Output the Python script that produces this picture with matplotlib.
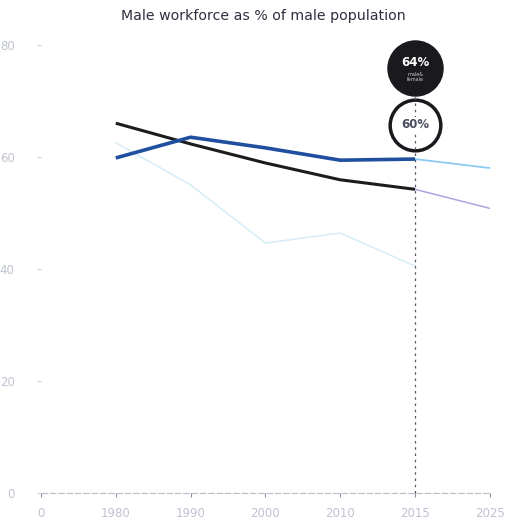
import matplotlib
matplotlib.use("Agg")
import matplotlib.pyplot as plt

# Category axis (equally spaced years)
years = ["0", "1980", "1990", "2000", "2010", "2015", "2025"]
y_ticks = [0, 20, 40, 60, 80]

hist_years = ["1980", "1990", "2000", "2010", "2015"]
black_vals = [66.0, 62.3, 58.9, 55.9, 54.2]
blue_vals = [59.8, 63.5, 61.6, 59.4, 59.6]
faint_vals = [62.5, 55.0, 44.6, 46.4, 40.5]

proj_years = ["2015", "2025"]
black_proj = [54.2, 50.8]
blue_proj = [59.6, 58.0]

overall_label = "64%"
male_label = "60%"
highlight_year = "2015"

pos = {y: i for i, y in enumerate(years)}

fig = plt.figure(figsize=(5.06, 5.23), dpi=100)
ax = fig.add_axes([0.081, 0.0574, 0.887, 0.857])
ax.set_xlim(0, len(years) - 1)
ax.set_ylim(0, 80)

for s in ax.spines.values():
    s.set_visible(False)

tick_col = "#bfc3d2"
ax.set_xticks(range(len(years)))
ax.set_xticklabels(years)
ax.set_yticks(y_ticks)
ax.set_yticklabels([str(v) for v in y_ticks])
ax.tick_params(axis="x", colors="#8a8fa0", labelcolor=tick_col, length=3,
               width=0.8, pad=7, labelsize=8.5)
ax.tick_params(axis="y", colors="#d0d3dc", labelcolor=tick_col, length=3,
               width=0.8, pad=16, labelsize=8.5)

# baseline
ax.plot([0, len(years) - 1], [0, 0], color="#b8bccb", lw=0.8,
        ls=(0, (6, 1.5)), clip_on=False, zorder=1)

hx = [pos[y] for y in hist_years]
px = [pos[y] for y in proj_years]

ax.plot(hx, faint_vals, color="#d6ecf7", lw=1.1, zorder=2)
ax.plot(px, black_proj, color="#aaa6e2", lw=1.1, zorder=2)
ax.plot(px, blue_proj, color="#8ccaf2", lw=1.3, zorder=2)
ax.plot(hx, black_vals, color="#1c1c1e", lw=2.2, zorder=4,
        solid_capstyle="butt")
ax.plot(hx, blue_vals, color="#1f4f9e", lw=2.6, zorder=5,
        solid_capstyle="butt")

# highlight marker line and callouts
hxp = pos[highlight_year]
trans = ax.get_xaxis_transform()
ax.plot([hxp, hxp], [0, 0.9], transform=trans, color="#55586a", lw=0.9,
        ls=(0, (2, 3)), zorder=7, clip_on=False)

ax.scatter([hxp], [0.949], s=1570, marker="o", color="#1a1a1e",
           transform=trans, clip_on=False, zorder=8)
ax.scatter([hxp], [0.821], s=1330, marker="o", facecolor="white",
           edgecolor="#1a1a1e", linewidths=2.5, transform=trans,
           clip_on=False, zorder=6)
ax.text(hxp, 0.961, overall_label, transform=trans, ha="center", va="center",
        color="white", fontsize=8.5, fontweight="bold", zorder=9)
ax.text(hxp, 0.928, "male&\nfemale", transform=trans, ha="center",
        va="center", color="#c8c8d0", fontsize=3.5, linespacing=1.1, zorder=9)
ax.text(hxp, 0.822, male_label, transform=trans, ha="center", va="center",
        color="#4a4d60", fontsize=8.5, fontweight="bold", zorder=9,
        bbox=dict(facecolor="white", edgecolor="none", pad=0.5))

fig.text(0.52, 0.970, "Male workforce as % of male population",
         ha="center", va="center", fontsize=10.2, color="#2e2f3e")

fig.savefig("out.png", dpi=100)
